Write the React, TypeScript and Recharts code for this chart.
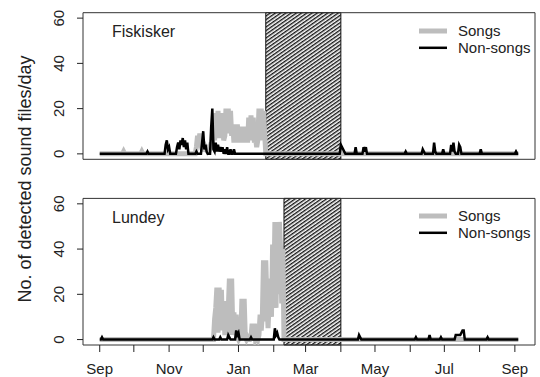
import React from "react";
import { ComposedChart, Line, XAxis, YAxis, ReferenceArea } from "recharts";

// day 0 = 1 Sep; last recorded day = 368
const monthTicks = [0, 30, 61, 91, 122, 153, 181, 212, 242, 273, 303, 334, 365];
const monthLabels = ["Sep", "", "Nov", "", "Jan", "", "Mar", "", "May", "", "Jul", "", "Sep"];
const yTicks = [0, 20, 40, 60];
const LAST_DAY = 368;

// [day, files/day] for days with detections; every other day is 0
const fiskSongs = [
  [21, 1], [37, 1],
  [85, 3], [86, 8], [87, 5], [88, 9], [89, 4], [90, 2], [91, 5], [92, 1], [93, 3], [94, 2],
  [95, 4], [96, 1], [97, 3], [98, 5], [99, 2], [100, 14], [101, 6], [102, 18], [103, 9],
  [104, 19], [105, 7], [106, 18], [107, 10], [108, 18], [109, 6], [110, 8], [111, 20],
  [112, 9], [113, 20], [114, 11], [115, 19], [116, 8], [117, 13], [118, 5], [119, 12],
  [120, 6], [121, 13], [122, 5], [123, 12], [124, 7], [125, 12], [126, 5], [127, 11],
  [128, 6], [129, 12], [130, 5], [131, 16], [132, 7], [133, 17], [134, 6], [135, 16],
  [136, 5], [137, 7], [138, 3], [139, 6], [140, 20], [141, 8], [142, 20], [143, 6],
  [144, 19], [145, 9],
];
const fiskNonSongs = [
  [42, 1], [58, 4], [59, 6], [60, 2], [61, 3], [68, 3], [69, 5], [70, 2], [71, 6], [72, 4],
  [73, 7], [74, 3], [75, 6], [76, 2], [77, 5], [85, 1], [90, 5], [91, 10], [92, 2], [93, 4],
  [94, 1], [98, 12], [99, 20], [100, 2], [101, 1], [102, 5], [103, 1], [104, 4], [105, 1],
  [106, 3], [107, 1], [108, 3], [110, 2], [112, 3], [115, 2], [118, 2],
  [212, 4], [213, 3], [214, 2], [215, 1], [225, 3], [232, 3], [233, 1], [234, 3], [269, 1],
  [284, 2], [285, 1], [294, 5], [295, 1], [302, 2], [309, 4], [310, 1], [311, 5], [312, 1],
  [316, 4], [317, 3], [335, 2], [366, 1],
];
const lundSongs = [
  [101, 9], [102, 14], [103, 23], [104, 3], [105, 23], [106, 6], [107, 22], [108, 4],
  [109, 17], [110, 2], [111, 16], [112, 3], [113, 13], [114, 27], [115, 2], [116, 27],
  [117, 4], [118, 12], [119, 2], [120, 11], [121, 1], [123, 1], [125, 18], [126, 2],
  [127, 18], [128, 1], [130, 1], [133, 1], [134, 7], [135, 1], [136, 7], [138, 1], [140, 2],
  [141, 11], [142, 4], [143, 11], [144, 35], [145, 8], [146, 35], [147, 17], [148, 5],
  [149, 17], [150, 27], [151, 10], [152, 42], [153, 18], [154, 52], [155, 14], [156, 52],
  [157, 20], [158, 52], [159, 40], [160, 16], [161, 40],
];
const lundNonSongs = [
  [2, 1], [100, 1], [106, 1], [113, 2], [114, 1], [120, 4], [121, 2], [122, 3], [133, 1],
  [154, 5], [155, 2], [156, 3], [157, 1], [228, 2], [229, 1], [278, 1], [290, 2], [300, 1],
  [313, 2], [314, 2], [315, 2], [316, 2], [317, 2], [318, 3], [319, 4], [320, 4], [341, 1],
];
// gaps in recording (hatched)
const fiskGap = [146, 212];
const lundGap = [162, 212];

const X_DOMAIN = [-14.7, 382.7];
const Y_DOMAIN = [-2.4, 62.4];
const FONT = "'Liberation Sans', Arial, sans-serif";
const SONG_COLOR = "#bdbdbd";

function daily(pairs: number[][]) {
  const m = new Map(pairs.map(([d, v]) => [d, v]));
  const out = [];
  for (let day = 0; day <= LAST_DAY; day++) out.push({ day, v: m.get(day) ?? 0 });
  return out;
}

const YTick = (p: any) => (
  <text x={p.x} y={p.y} transform={`rotate(-90 ${p.x} ${p.y})`} textAnchor="middle"
    fontSize={15} fill="#222" fontFamily={FONT}>
    {p.payload.value}
  </text>
);

const legendItems = [
  { name: "Songs", color: SONG_COLOR, width: 5 },
  { name: "Non-songs", color: "#000", width: 2.5 },
];

function Panel({ id, label, songs, nonSongs, gap, showX, height, top, marginTop }: any) {
  return (
    <div style={{ position: "absolute", left: 0, top }}>
      <ComposedChart width={540} height={height}
        margin={{ top: marginTop, right: 5, bottom: showX ? 0 : 25.7, left: 0 }}>
        <defs>
          <pattern id={id} width={3} height={3} patternUnits="userSpaceOnUse" patternTransform="rotate(-35)">
            <rect x={0} y={0} width={3} height={1.4} fill="#151515" />
          </pattern>
        </defs>
        <XAxis type="number" dataKey="day" domain={X_DOMAIN} allowDataOverflow hide={!showX}
          height={showX ? 32 : 0} ticks={monthTicks} interval={0} axisLine={false}
          tickLine={{ stroke: "#222" }} tickSize={7} tickMargin={11}
          tickFormatter={(v: number) => monthLabels[monthTicks.indexOf(v)]}
          tick={{ fontSize: 15, fill: "#222", fontFamily: FONT }} />
        <YAxis type="number" domain={Y_DOMAIN} allowDataOverflow ticks={yTicks} width={83}
          axisLine={false} tickLine={{ stroke: "#222" }} tickSize={6} tickMargin={12.5}
          tick={<YTick />} />
        <Line data={daily(songs)} dataKey="v" name="Songs" type="linear" stroke={SONG_COLOR}
          strokeWidth={5} dot={false} isAnimationActive={false} />
        <Line data={daily(nonSongs)} dataKey="v" name="Non-songs" type="linear" stroke="#000"
          strokeWidth={2.5} dot={false} isAnimationActive={false} />
        <ReferenceArea x1={gap[0]} x2={gap[1]} y1={Y_DOMAIN[0]} y2={Y_DOMAIN[1]}
          fill={`url(#${id})`} fillOpacity={1} stroke="#111" strokeWidth={1} ifOverflow="visible" />
        <ReferenceArea x1={X_DOMAIN[0]} x2={X_DOMAIN[1]} y1={Y_DOMAIN[0]} y2={Y_DOMAIN[1]}
          fill="none" stroke="#333" strokeWidth={1} ifOverflow="visible" />
      </ComposedChart>
      <div style={{ position: "absolute", left: 112, top: marginTop + 10.5, fontSize: 16, fontFamily: FONT, color: "#222", lineHeight: "18px" }}>
        {label}
      </div>
      <svg width={125} height={40} style={{ position: "absolute", left: 415, top: marginTop + 8 }}>
        {legendItems.map((e, i) => (
          <g key={e.name}>
            <line x1={4} x2={32} y1={10 + i * 16.8} y2={10 + i * 16.8} stroke={e.color} strokeWidth={e.width} />
            <text x={43} y={15.4 + i * 16.8} fontSize={15} fill="#222" fontFamily={FONT}>{e.name}</text>
          </g>
        ))}
      </svg>
    </div>
  );
}

export default function App() {
  return (
    <div style={{ position: "absolute", left: 0, top: 0, width: 540, height: 377, background: "#fff" }}>
      <Panel id="hatchA" label="Fiskisker" songs={fiskSongs} nonSongs={fiskNonSongs} gap={fiskGap}
        showX={false} height={185} top={0} marginTop={12.7} />
      <Panel id="hatchB" label="Lundey" songs={lundSongs} nonSongs={lundNonSongs} gap={lundGap}
        showX={true} height={192} top={185} marginTop={13.4} />
      <svg width={540} height={377} style={{ position: "absolute", left: 0, top: 0, pointerEvents: "none" }}>
        <text x={31} y={179} transform="rotate(-90 31 179)" textAnchor="middle" fontSize={18}
          fill="#222" fontFamily={FONT}>
          No. of detected sound files/day
        </text>
      </svg>
    </div>
  );
}
